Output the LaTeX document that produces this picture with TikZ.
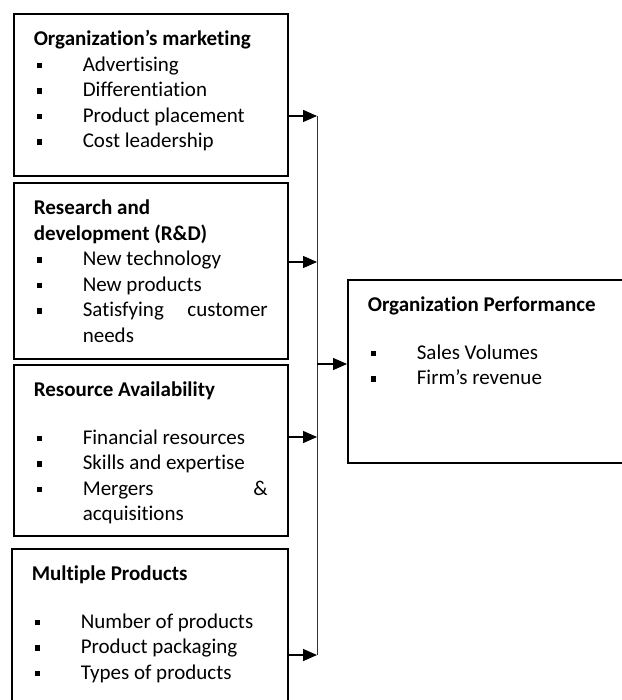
\documentclass[tikz,border=0pt]{standalone}
\usepackage{fontspec}
\setmainfont[Ligatures=NoCommon]{Carlito}
\usetikzlibrary{arrows.meta}

% heading line and bulleted item inside a factor box
\newcommand{\boxhead}[1]{\noindent\textbf{\strut#1}\par}
\newcommand{\boxitem}[1]{\hangindent=49pt\hangafter=1\noindent
  \makebox[49pt][l]{\hspace{3pt}\rule[3pt]{5.4pt}{5.4pt}}\strut#1\par}
\newcommand{\boxgap}{\vskip 22pt}
% fixed-size body: height, width, contents
\newcommand{\boxbody}[3]{\parbox[t][#1][t]{#2}{\hyphenpenalty=10000
  \tolerance=10000\parindent=0pt #3}}

\begin{document}
\begin{tikzpicture}[x=1pt, y=-1pt,
  factor/.style={draw, line width=1.6pt, anchor=north west,
    inner xsep=20pt, inner ysep=14pt,
    font=\fontsize{21}{25.5}\selectfont},
  feed/.style={-{Triangle[length=14pt,width=12pt]}, line width=1.4pt},
  bus/.style={line width=1pt, black!80}]
  \useasboundingbox (0,0) rectangle (621,700);

  % factors
  \node[factor] (mkt) at (13,13) {\boxbody{134pt}{234pt}{%
    \boxhead{Organization’s marketing}
    \boxitem{Advertising}
    \boxitem{Differentiation}
    \boxitem{Product placement}
    \boxitem{Cost leadership}}};
  \node[factor] (rnd) at (13,182) {\boxbody{148pt}{234pt}{%
    \boxhead{Research and\\development (R\&D)}
    \boxitem{New technology}
    \boxitem{New products}
    \boxitem{Satisfying customer needs}}};
  \node[factor] (res) at (13,364) {\boxbody{143pt}{234pt}{%
    \boxhead{Resource Availability}
    \boxgap
    \boxitem{Financial resources}
    \boxitem{Skills and expertise}
    \boxitem{Mergers \& acquisitions}}};
  \node[factor] (prod) at (11,548) {\boxbody{129pt}{236pt}{%
    \boxhead{Multiple Products}
    \boxgap
    \boxitem{Number of products}
    \boxitem{Product packaging}
    \boxitem{Types of products}}};

  % outcome
  \node[factor] (perf) at (347,279) {\boxbody{155pt}{245pt}{%
    \boxhead{Organization Performance}
    \boxgap
    \boxitem{Sales Volumes}
    \boxitem{Firm’s revenue}}};

  % collecting line
  \coordinate (j1) at (317,116);
  \coordinate (j2) at (317,262);
  \coordinate (j3) at (317,437);
  \coordinate (j4) at (317,655);
  \coordinate (jp) at (317,364);
  \draw[bus] (j1) -- (j4);

  \draw[feed] (mkt.east |- j1) -- (j1);
  \draw[feed] (rnd.east |- j2) -- (j2);
  \draw[feed] (res.east |- j3) -- (j3);
  \draw[feed] (prod.east |- j4) -- (j4);
  \draw[feed] (jp) -- (perf.west |- jp);
\end{tikzpicture}
\end{document}
